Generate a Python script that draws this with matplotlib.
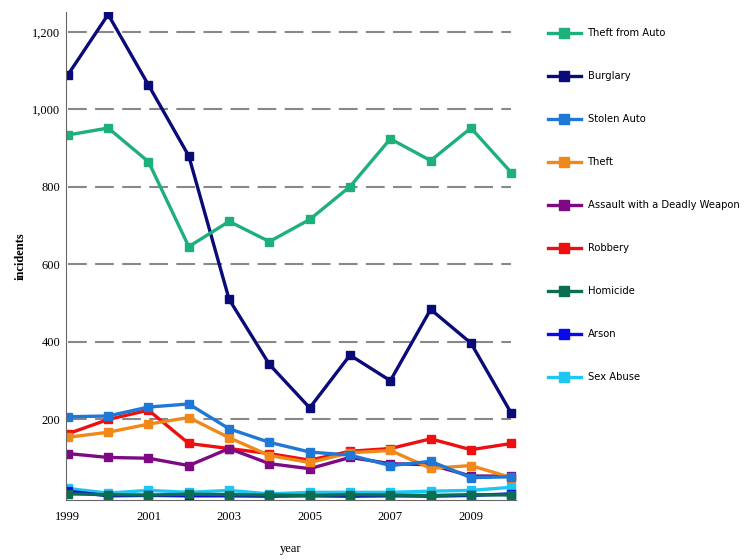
import numpy as np
import matplotlib.pyplot as plt

# 数据
years = list(range(1999, 2011))
theft_from_auto = [934, 952, 865, 646, 711, 659, 716, 801, 924, 868, 952, 837]
burglary = [1089, 1245, 1063, 880, 510, 342, 230, 366, 300, 484, 397, 216]
stolen_auto = [207, 209, 232, 240, 176, 141, 116, 108, 81, 92, 50, 52]
theft = [154, 167, 188, 205, 153, 107, 89, 114, 120, 74, 81, 50]
assault = [112, 102, 100, 81, 125, 86, 73, 102, 86, 83, 54, 54]
robbery = [163, 200, 224, 138, 125, 112, 95, 118, 125, 150, 122, 138]
homicide = [8, 6, 5, 7, 6, 5, 4, 6, 5, 4, 6, 5]
arson = [15, 3, 4, 3, 3, 2, 3, 2, 3, 2, 4, 8]
sex_abuse = [22, 10, 17, 12, 17, 8, 12, 12, 12, 15, 17, 25]

series = [
    ("Theft from Auto", theft_from_auto, "#1db07a"),
    ("Burglary", burglary, "#0a0a78"),
    ("Stolen Auto", stolen_auto, "#1f78d6"),
    ("Theft", theft, "#f0881c"),
    ("Assault with a Deadly Weapon", assault, "#7d0a84"),
    ("Robbery", robbery, "#ee1010"),
    ("Homicide", homicide, "#0b6e52"),
    ("Arson", arson, "#0a0ae8"),
    ("Sex Abuse", sex_abuse, "#1ec6f2"),
]
grid_vals = [200, 400, 600, 800, 1000, 1200]

fig = plt.figure(figsize=(7.48, 5.6), dpi=100)
ax = fig.add_axes([0.088, 0.107, 0.602, 0.872])

# 从下往上画，让主要的线在上面
for name, vals, col in reversed(series):
    ax.plot(years, vals, color=col, lw=2.4, marker="s", ms=6, label=name)

ax.set_xlim(1998.95, 2010.12)
ax.set_ylim(-8, 1252)

ax.set_yticks(grid_vals)
ax.set_yticklabels(["200", "400", "600", "800", "1,000", "1,200"],
                   family="Liberation Serif", fontsize=9)
ax.set_xticks(list(range(1999, 2011, 2)))
ax.set_xticklabels([str(y) for y in range(1999, 2011, 2)],
                   family="Liberation Serif", fontsize=9)
ax.tick_params(length=0, pad=8)
ax.tick_params(axis="y", pad=4)

ax.hlines(grid_vals, years[0], years[-1], color="#888888", lw=1.5,
          linestyles=(0, (9, 4)), zorder=0)

for s in ["top", "right"]:
    ax.spines[s].set_visible(False)
ax.spines["left"].set_color("#666666")
ax.spines["bottom"].set_color("#666666")

ax.set_ylabel("incidents", family="Liberation Serif", fontsize=9,
              fontweight="bold", labelpad=4)
ax.set_xlabel("year", family="Liberation Serif", fontsize=9, labelpad=14)

# 图例
handles, labels = ax.get_legend_handles_labels()
handles = handles[::-1]
labels = labels[::-1]
fig.legend(handles, labels, loc="upper left", bbox_to_anchor=(0.72, 0.966),
           frameon=False, fontsize=7.2, handlelength=3.3, handletextpad=0.7,
           labelspacing=3.3, markerscale=1.25)

fig.savefig("out.png", dpi=100)
